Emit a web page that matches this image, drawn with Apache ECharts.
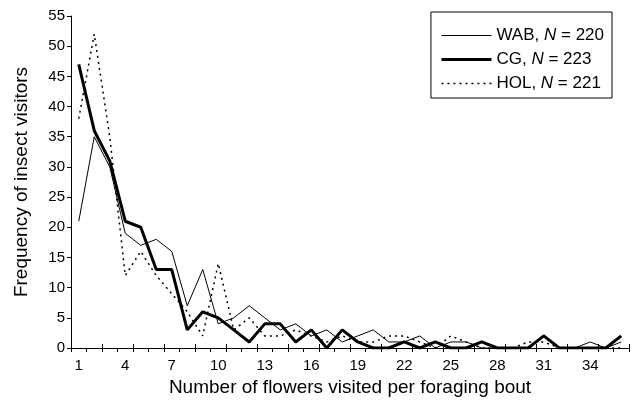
<!DOCTYPE html>
<html>
<head>
<meta charset="utf-8">
<script src="https://cdn.jsdelivr.net/npm/echarts@6/dist/echarts.min.js"></script>
<style>html,body{margin:0;padding:0;background:#fff}#c{width:632px;height:407px}</style>
</head>
<body>
<div id="c"></div>
<script>
const categories = Array.from({length: 36}, (_, i) => String(i + 1));
const tickLabels = ['1','4','7','10','13','16','19','22','25','28','31','34'];
const wab = [21,35,30,19,17,18,16,7,13,4,5,7,5,3,4,2,3,1,2,3,1,1,2,0,1,1,0,0,0,0,2,0,0,1,0,1];
const cg  = [47,36,31,21,20,13,13,3,6,5,3,1,4,4,1,3,0,3,1,0,0,1,0,1,0,0,1,0,0,0,2,0,0,0,0,2];
const hol = [38,52,35,12,16,12,9,6,2,14,3,5,2,2,3,2,1,2,1,1,2,2,1,0,2,1,0,0,0,1,1,0,0,0,0,0];
const seriesNames = ['WAB', 'CG', 'HOL'];
const seriesN = ['220', '223', '221'];

const font = 'Liberation Sans, Arial, sans-serif';
const chart = echarts.init(document.getElementById('c'));
const xBase = {
  type: 'category', data: categories, boundaryGap: true,
  axisLine: {show: true, lineStyle: {color: '#000', width: 1}},
  splitLine: {show: false}
};
const widths = [1, 3, 1.5];
const types = ['solid', 'solid', [2, 4]];
chart.setOption({
  animation: false,
  grid: {left: 71, right: 3, top: 16, bottom: 59},
  legend: {
    orient: 'vertical', right: 20, top: 12,
    data: seriesNames.map((n, k) => ({name: n,
      itemStyle: {opacity: 0},
      lineStyle: {color: '#000', width: widths[k], type: types[k]}})),
    borderColor: '#000', borderWidth: 1, borderRadius: 0,
    padding: [15, 8, 6, 9], itemGap: 7,
    itemWidth: 50, itemHeight: 18,
    textStyle: {fontFamily: font, fontSize: 17, color: '#000',
      rich: {a: {fontFamily: font, fontSize: 17, color: '#000'},
             i: {fontFamily: font, fontSize: 17, color: '#000', fontStyle: 'italic'}}},
    formatter: name => {
      const k = seriesNames.indexOf(name);
      return '{a|' + name + ', }{i|N}{a| = ' + seriesN[k] + '}';
    }
  },
  xAxis: [
    Object.assign({}, xBase, {
      name: 'Number of flowers visited per foraging bout',
      nameLocation: 'middle', nameGap: 26,
      nameTextStyle: {fontFamily: font, fontSize: 19, color: '#000'},
      axisTick: {show: true, inside: false, length: 4, lineStyle: {color: '#000'}},
      axisLabel: {fontFamily: font, fontSize: 15, color: '#000', margin: 10,
        interval: 0,
        formatter: v => tickLabels.indexOf(v) >= 0 ? v : ''}
    }),
    Object.assign({}, xBase, {
      position: 'bottom',
      axisTick: {show: true, inside: true, length: 4, lineStyle: {color: '#000'}},
      axisLabel: {show: false}
    })
  ],
  yAxis: {
    type: 'value', min: 0, max: 55, interval: 5,
    name: 'Frequency of insect visitors', nameLocation: 'middle', nameGap: 40,
    nameTextStyle: {fontFamily: font, fontSize: 19, color: '#000'},
    axisLine: {show: true, lineStyle: {color: '#000', width: 1}},
    axisTick: {show: true, length: 4, lineStyle: {color: '#000'}},
    axisLabel: {fontFamily: font, fontSize: 15, color: '#000', margin: 6},
    splitLine: {show: false}
  },
  series: [
    {name: 'WAB', type: 'line', data: wab, symbol: 'none', color: '#000',
     lineStyle: {color: '#000', width: 1}},
    {name: 'CG', type: 'line', data: cg, symbol: 'none', color: '#000',
     lineStyle: {color: '#000', width: 3}},
    {name: 'HOL', type: 'line', data: hol, symbol: 'none', color: '#000',
     lineStyle: {color: '#000', width: 1.5, type: [2, 4]}}
  ]
});
</script>
</body>
</html>
